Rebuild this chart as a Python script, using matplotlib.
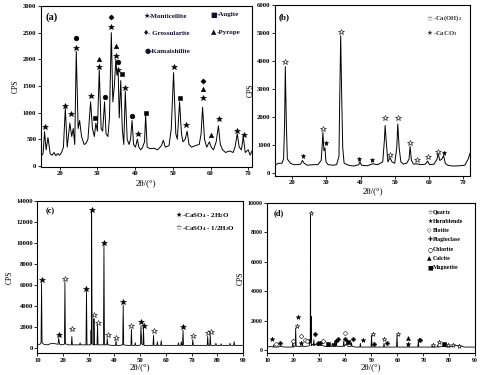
import matplotlib
matplotlib.use("Agg")
import matplotlib.pyplot as plt

plt.rcParams['font.family'] = ['Liberation Serif', 'DejaVu Sans']
plt.rcParams['font.weight'] = 'bold'
plt.rcParams['mathtext.default'] = 'regular'

# ---- (a) slag pattern ----
a_x = [15, 15.6, 16.0, 16.4, 16.9, 17.5, 18, 18.5, 19, 19.5, 20, 20.5, 21.0, 21.5, 22.0,
       22.7, 23.2, 23.6, 24.0, 24.4, 24.9, 25.3, 25.8, 26.5, 27.0, 27.5, 28.2, 28.7, 29.2,
       29.6, 30.0, 30.5, 31.0, 31.4, 31.9, 32.3, 32.8, 33.2, 33.7, 34.1, 34.5, 34.9, 35.2,
       35.5, 35.8, 36.2, 36.6, 37.0, 37.4, 37.9, 38.4, 38.8, 39.2, 39.6, 40.1, 40.6, 41.0,
       41.5, 42.0, 42.5, 42.8, 43.2, 44, 45, 46, 47, 47.5, 48, 49, 49.6, 50.2, 50.8, 51.2,
       51.8, 52.3, 52.7, 53.3, 53.8, 54.3, 55, 56, 57, 57.5, 57.9, 58.4, 59, 59.7, 60.2,
       60.8, 61.5, 62.1, 62.6, 63.2, 64, 65, 66, 66.5, 67.1, 67.6, 68.2, 68.7, 69.2, 70,
       70.5, 71]
a_y = [170, 230, 640, 300, 530, 220, 200, 250, 190, 230, 200, 250, 350, 1080, 350,
       800, 550, 700, 400, 2150, 700, 850, 550, 400, 420, 500, 1200, 700, 550,
       800, 650, 1800, 700, 650, 1200, 600, 550, 900, 2500, 1200, 1500, 2000, 1700,
       1800, 900, 1600, 700, 400, 1400, 500, 400, 500, 850, 400, 350, 500, 350,
       300, 350, 450, 950, 350, 320, 330, 300, 380, 480, 350, 380, 700, 1750, 600, 500,
       1200, 600, 450, 500, 650, 400, 350, 380, 400, 600, 1100, 500, 350, 450, 350,
       300, 450, 750, 400, 300, 250, 280, 250, 350, 600, 350, 300, 550, 250, 300,
       200, 280]
a_mont_x = [16.0, 21.5, 22.9, 24.4, 28.2, 30.5, 33.7, 34.9, 35.4, 37.4, 40.8, 50.2, 53.6, 57.9, 62.2, 67.1, 69.0]
a_mont_y = [720, 1130, 970, 2210, 1315, 1850, 2610, 2070, 1800, 1460, 590, 1855, 760, 1280, 880, 650, 580]
a_gros_x = [33.7, 57.9]
a_gros_y = [2790, 1600]
a_kama_x = [24.4, 32.0, 35.6, 39.2]
a_kama_y = [2400, 1300, 1950, 940]
a_aug_x = [29.5, 36.5, 42.8, 51.8]
a_aug_y = [900, 1720, 1000, 1280]
a_pyr_x = [30.5, 34.9, 57.9, 60.0]
a_pyr_y = [2000, 2240, 1440, 580]

# ---- (b) lime pattern ----
b_x = [15.3, 16, 17, 17.5, 17.8, 18.0, 18.3, 18.6, 19.5, 20.5, 21.5, 22.5, 23.0, 23.5,
       24.5, 26, 27.5, 28.5, 28.8, 29.0, 29.3, 29.6, 29.9, 30.5, 32, 33, 33.7, 33.9,
       34.2, 34.5, 34.8, 35.2, 36.5, 38, 39.5, 39.8, 40.3, 42, 43.5, 45, 46.5, 47.0,
       47.2, 47.6, 48, 48.6, 49.2, 50, 50.6, 50.9, 51.3, 51.8, 52.5, 53.5, 54.2, 54.5,
       54.9, 55.5, 56.4, 57.5, 59, 59.6, 60.2, 61.5, 62.4, 62.7, 63.2, 63.8, 64.3, 64.8,
       65.5, 67, 69, 70.5, 71.5, 72]
b_y = [300, 350, 350, 500, 1800, 3800, 1800, 500, 350, 300, 300, 320, 450, 350,
       280, 300, 300, 450, 1000, 1450, 800, 900, 400, 300, 280, 300, 600, 2500,
       4900, 2700, 900, 350, 280, 250, 300, 400, 280, 260, 330, 300, 400, 1200,
       1700, 1000, 400, 550, 400, 350, 900, 1750, 900, 400, 320, 350, 500, 950,
       450, 320, 330, 300, 320, 430, 300, 320, 500, 700, 450, 500, 620, 350,
       280, 250, 260, 280, 500, 700]
b_oh_x = [18.0, 29.0, 34.3, 47.3, 48.6, 51.0, 54.6, 56.6, 59.6, 62.8]
b_oh_y = [3960, 1580, 5030, 1970, 630, 1950, 1090, 460, 570, 760]
b_co_x = [23.2, 29.8, 39.7, 43.5, 64.4]
b_co_y = [600, 1070, 510, 475, 710]

# ---- (c) gypsum pattern ----
c_x = [10, 11.0, 11.4, 11.6, 11.8, 12.5, 14, 15, 16, 17, 18.0, 18.3, 18.6, 19.5, 20.5,
       20.7, 20.9, 22, 23.2, 23.4, 23.6, 25, 26.4, 26.6, 26.8, 28, 28.9, 29.1, 29.3,
       30.2, 30.8, 30.9, 31.0, 31.1, 31.3, 31.9, 32.0, 32.2, 33.2, 33.4, 33.6, 34.5,
       35.7, 35.9, 36.1, 37.0, 37.2, 37.4, 39, 40.4, 40.6, 40.8, 42, 43.2, 43.4, 43.6,
       45, 46.4, 46.6, 46.8, 47.9, 48.1, 48.3, 49.5, 50.1, 50.3, 50.6, 51.1, 51.3, 51.5,
       53, 55.0, 55.2, 55.4, 56.5, 56.7, 56.9, 58.0, 58.2, 58.4, 60, 62, 64.7, 64.9,
       65.1, 65.8, 66.0, 66.2, 66.5, 66.7, 66.9, 68, 70.3, 70.5, 70.7, 72, 74, 76.1,
       76.3, 76.5, 77.1, 77.3, 77.5, 79.3, 79.5, 79.7, 81.3, 81.5, 81.7, 83, 84.8,
       85.0, 85.2, 86.4, 86.6, 86.8, 88, 90]
c_y = [350, 350, 500, 6200, 500, 350, 300, 400, 450, 400, 350, 950, 350, 300, 350,
       6300, 400, 300, 300, 1100, 300, 300, 300, 500, 300, 300, 300, 5400, 300,
       300, 300, 1700, 400, 13000, 400, 300, 2800, 300, 300, 2200, 300, 300,
       300, 9900, 300, 300, 900, 300, 250, 250, 700, 250, 250, 300, 4100, 300,
       250, 250, 1800, 250, 250, 500, 250, 250, 300, 2100, 400, 300, 1900, 250,
       250, 250, 1200, 250, 250, 600, 250, 250, 700, 250, 250, 250, 250, 500,
       250, 250, 600, 250, 250, 1700, 250, 250, 250, 800, 250, 250, 250, 250,
       1100, 250, 250, 1200, 250, 250, 450, 250, 250, 400, 250, 250, 250,
       450, 250, 250, 600, 250, 250, 250]
c_di_x = [11.6, 18.3, 29.1, 31.1, 35.9, 43.5, 50.3, 51.4, 66.8]
c_di_y = [6490, 1280, 5640, 13100, 9980, 4370, 2500, 2090, 1960]
c_hemi_x = [20.7, 23.4, 32.2, 33.5, 37.3, 40.6, 46.6, 55.3, 70.4, 76.4, 77.4]
c_hemi_y = [6550, 1780, 3120, 2400, 1250, 970, 2090, 1650, 1120, 1400, 1530]

# ---- (d) tailings pattern ----
d_x = [10, 11, 12.2, 12.4, 12.6, 14, 15, 16.5, 18, 19.6, 19.8, 20.0, 20.7, 20.9, 21.1,
       22, 23.3, 23.5, 23.7, 25, 26.2, 26.5, 26.6, 26.7, 26.8, 26.9, 27.2, 27.7, 27.9,
       28.1, 28.5, 29.3, 29.5, 29.7, 30.5, 32, 34.8, 35.0, 35.2, 36.3, 36.5, 36.7, 38,
       39.2, 39.4, 39.6, 40.3, 41, 42.2, 42.4, 42.6, 44, 45.6, 45.8, 46.0, 48, 49.9,
       50.1, 50.3, 52, 54.7, 54.9, 55.1, 57, 59.7, 59.9, 60.1, 62, 63.9, 64.1, 64.3,
       66, 67.9, 68.1, 68.3, 70, 73.2, 73.4, 73.6, 75.4, 75.6, 75.8, 77.6, 79.8, 80.0,
       80.2, 81.5, 83.8, 86, 88, 90]
d_y = [200, 250, 200, 350, 200, 200, 250, 200, 200, 200, 500, 200, 250, 1500, 250,
       250, 250, 400, 250, 250, 300, 600, 9200, 600, 2300, 300, 400, 300, 700,
       300, 400, 300, 400, 300, 350, 250, 250, 450, 250, 250, 650, 250, 250,
       250, 600, 250, 400, 250, 250, 500, 250, 200, 200, 450, 200, 200, 200,
       1000, 200, 200, 200, 450, 200, 200, 200, 1000, 200, 200, 200, 400, 200,
       200, 200, 600, 200, 200, 200, 300, 200, 200, 350, 200, 250, 200, 300,
       200, 300, 300, 200, 200, 200]
d_qtz_x = [21.3, 26.8, 50.6, 54.9, 60.1, 68.2, 73.7, 75.9, 79.7, 81.6, 83.8]
d_qtz_y = [1630, 9300, 1110, 780, 1110, 690, 360, 560, 330, 330, 290]
d_hbl_x = [11.7, 21.9, 22.8, 35.7, 47.0, 64.3]
d_hbl_y = [740, 2230, 510, 420, 670, 380]
d_bio_x = [20.0, 23.0, 31.6]
d_bio_y = [580, 980, 580]
d_pla_x = [14.9, 26.2, 28.4, 29.3, 30.3, 36.4, 37.2, 40.0, 43.1, 51.1, 56.1, 68.9]
d_pla_y = [470, 600, 1100, 510, 510, 580, 740, 740, 740, 420, 470, 650]
d_chl_x = [13.3, 24.3, 25.1, 40.0]
d_chl_y = [400, 670, 600, 1180]
d_cal_x = [64.3]
d_cal_y = [830]
d_mag_x = [33.5, 40.9, 77.8]
d_mag_y = [420, 540, 380]

fig = plt.figure(figsize=(4.8, 3.75), dpi=100)

TICK = 4.8


def style(ax, xlim, ylim, xticks, yticks, tsize=TICK):
    ax.set_xlim(*xlim)
    ax.set_ylim(*ylim)
    ax.set_xticks(xticks)
    ax.set_yticks(yticks)
    ax.tick_params(direction='out', length=2, width=0.6, labelsize=tsize, pad=1.2)
    for s in ax.spines.values():
        s.set_linewidth(0.8)
    for lab in ax.get_xticklabels() + ax.get_yticklabels():
        lab.set_fontweight('bold')


def marks(ax, xs, ys, m, ms, open_=False):
    ax.plot(xs, ys, ls='none', marker=m, ms=ms, color='k',
            mfc='white' if open_ else 'k', mec='k', mew=0.4)


def key(ax, x, y, sym, label, size, color, gap):
    # legend entry: symbol glyph + label text
    ax.text(x, y, sym, transform=ax.transAxes, fontsize=size, va='center',
            color=color, family='DejaVu Sans')
    ax.text(x + gap, y, label, transform=ax.transAxes, fontsize=size, va='center',
            color=color)


# (a)
ax = fig.add_axes([0.085, 0.555, 0.44, 0.429])
ax.plot(a_x, a_y, color='k', lw=0.7)
style(ax, (15, 71), (-20, 3000), range(20, 71, 10), range(0, 3001, 500))
marks(ax, a_mont_x, a_mont_y, '*', 3.8)
marks(ax, a_gros_x, a_gros_y, 'D', 2.6)
marks(ax, a_kama_x, a_kama_y, 'o', 3.4)
marks(ax, a_aug_x, a_aug_y, 's', 3.2)
marks(ax, a_pyr_x, a_pyr_y, '^', 3.2)
ax.text(0.02, 0.93, '(a)', transform=ax.transAxes, fontsize=7.5, va='center')
navy = '#101030'
key(ax, 0.485, 0.935, '★', '-Monticellite', 5, navy, 0.028)
key(ax, 0.485, 0.83, '♦', '- Grossularite', 5, navy, 0.024)
key(ax, 0.49, 0.72, '●', '-Kamaishilite', 5, navy, 0.028)
key(ax, 0.805, 0.945, '■', '-Augite', 5, navy, 0.028)
key(ax, 0.805, 0.835, '▲', '-Pyrope', 5, navy, 0.028)
ax.set_ylabel('CPS', fontsize=5.5, labelpad=2)
ax.set_xlabel('2θ/(°)', fontsize=6.5, labelpad=2)

# (b)
ax = fig.add_axes([0.573, 0.531, 0.406, 0.456])
ax.plot(b_x, b_y, color='k', lw=0.7)
style(ax, (15, 72), (-100, 6000), range(20, 71, 10), range(0, 6001, 1000))
marks(ax, b_oh_x, b_oh_y, '*', 4, open_=True)
marks(ax, b_co_x, b_co_y, '*', 3.6)
ax.text(0.02, 0.93, '(b)', transform=ax.transAxes, fontsize=6.5, va='center')
key(ax, 0.78, 0.92, '☆', '-Ca(OH)$_2$', 4.8, '#333333', 0.032)
key(ax, 0.78, 0.835, '★', '-CaCO$_3$', 4.8, '#333333', 0.032)
ax.set_ylabel('CPS', fontsize=5.5, labelpad=2)
ax.set_xlabel('2θ/(°)', fontsize=6.5, labelpad=1)

# (c)
ax = fig.add_axes([0.078, 0.058, 0.428, 0.406])
ax.plot(c_x, c_y, color='k', lw=0.6)
style(ax, (10, 90), (-500, 14000), range(10, 91, 10), range(0, 14001, 2000))
marks(ax, c_di_x, c_di_y, '*', 4.4)
marks(ax, c_hemi_x, c_hemi_y, '*', 4.4, open_=True)
ax.text(0.04, 0.93, '(c)', transform=ax.transAxes, fontsize=6, va='center')
key(ax, 0.67, 0.905, '★', '-CaSO$_4$ - 2H$_2$O', 5, 'k', 0.032)
key(ax, 0.67, 0.82, '☆', '-CaSO$_4$ - 1/2H$_2$O', 5, 'k', 0.032)
ax.set_ylabel('CPS', fontsize=5.5, labelpad=2)
ax.set_xlabel('2θ/(°)', fontsize=6.5, labelpad=0)

# (d)
ax = fig.add_axes([0.557, 0.058, 0.433, 0.401])
ax.plot(d_x, d_y, color='k', lw=0.6)
style(ax, (10, 90), (-220, 10000), range(10, 91, 10), range(0, 10001, 2000), tsize=4.2)
marks(ax, d_qtz_x, d_qtz_y, '*', 3.4, open_=True)
marks(ax, d_hbl_x, d_hbl_y, '*', 3.4)
marks(ax, d_bio_x, d_bio_y, 'D', 2.4, open_=True)
marks(ax, d_pla_x, d_pla_y, 'P', 2.8)
marks(ax, d_chl_x, d_chl_y, 'o', 2.6, open_=True)
marks(ax, d_cal_x, d_cal_y, '^', 2.8)
marks(ax, d_mag_x, d_mag_y, 's', 2.6)
ax.text(0.03, 0.93, '(d)', transform=ax.transAxes, fontsize=6, va='center')
d_syms = ['☆', '★', '◇', '✚', '○', '▲', '■']
d_names = ['Quartz', 'Hornblende', 'Biotite', 'Plagioclase', 'Chlorite', 'Calcite', 'Magnetite']
for i, (s, n) in enumerate(zip(d_syms, d_names)):
    key(ax, 0.77, 0.94 - i * 0.062, s, n, 4.2, 'k', 0.026)
ax.set_ylabel('CPS', fontsize=5.5, labelpad=2)
ax.set_xlabel('2θ/(°)', fontsize=6.5, labelpad=0)

fig.savefig('out.png', dpi=100)
